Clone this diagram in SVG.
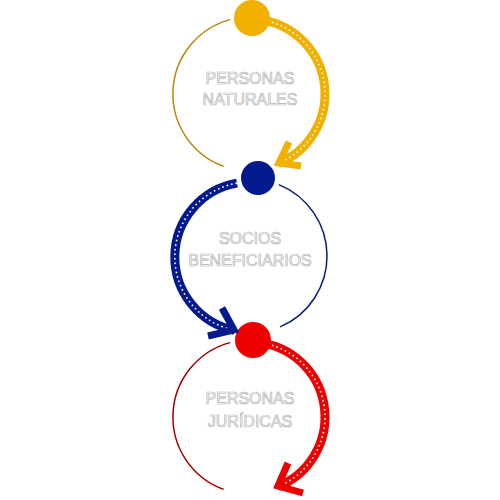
<svg xmlns="http://www.w3.org/2000/svg" width="500" height="500" viewBox="0 0 500 500">
<style>
.thin{fill:none;stroke-width:1.5}
.thick{fill:none;stroke-width:9}
.dots{fill:none;stroke:#fff;stroke-width:1.6;stroke-dasharray:1.6 3}
.chev{fill:none;stroke-width:7;stroke-linejoin:miter;stroke-miterlimit:10}
.lbl{font-family:"Liberation Sans",Arial,sans-serif;font-size:16px;font-weight:normal;fill:#fff;stroke:#b4b4b4;stroke-width:0.7;text-anchor:middle}
.y{stroke:#f2b100}.b{stroke:#021a8e}.r{stroke:#ee0000}
</style>
<rect width="500" height="500" fill="#fff"/>
<g id="connectors">
<path class="thin" stroke="#b8860b" d="M230.1,19.6 A77,77 0 0 0 223.7,166.4"/>
<path class="thin" stroke="#0a1a7a" d="M278.8,184.6 A77,77 0 0 1 280.1,326.9"/>
<path class="thin" stroke="#a00000" d="M230.1,342.6 A77,77 0 0 0 223.7,489.4"/>
<path class="thick y" d="M263,20.1 A75,75 0 0 1 278.1,163.5"/>
<path class="dots" d="M263,20.1 A75,75 0 0 1 278.1,163.5"/>
<path class="thick b" d="M237,183.1 A75,75 0 0 0 234.4,330.4"/>
<path class="dots" d="M237,183.1 A75,75 0 0 0 234.4,330.4"/>
<path class="thick r" d="M263,343.1 A75,75 0 0 1 278.1,486.5"/>
<path class="dots" d="M263,343.1 A75,75 0 0 1 278.1,486.5"/>
</g>
<g id="node-naturales">
<circle cx="252" cy="18" r="18" fill="#f2b100"/>
<text class="lbl" x="250" y="84">PERSONAS</text>
<text class="lbl" x="250" y="105">NATURALES</text>
</g>
<g id="node-socios">
<circle cx="258" cy="178" r="17" fill="#021a8e"/>
<text class="lbl" x="250" y="244">SOCIOS</text>
<text class="lbl" x="250" y="266">BENEFICIARIOS</text>
</g>
<g id="node-juridicas">
<circle cx="253" cy="340" r="18" fill="#ee0000"/>
<text class="lbl" x="250" y="404">PERSONAS</text>
<text class="lbl" x="250" y="427">JURÍDICAS</text>
</g>
<g id="arrowheads">
<polyline class="chev y" points="289,142 279,163 301,166"/>
<polyline class="chev b" points="222,308 234,330 208,336"/>
<polyline class="chev r" points="288,463 278,486 303,493"/>
</g>
</svg>
